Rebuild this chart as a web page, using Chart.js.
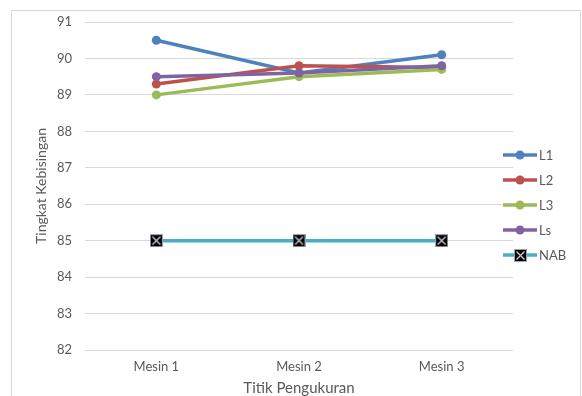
<!DOCTYPE html>
<html><head><meta charset="utf-8">
<script src="https://cdn.jsdelivr.net/npm/chart.js@4.4.0/dist/chart.umd.min.js"></script>
<style>html,body{margin:0;padding:0;background:#fff}#wrap{width:582px;height:396px}</style>
</head><body><div id="wrap"><canvas id="c" width="582" height="396"></canvas></div>
<script>
const categories = ["Mesin 1", "Mesin 2", "Mesin 3"];
const seriesNames = ["L1", "L2", "L3", "Ls", "NAB"];
const L1 = [90.5, 89.6, 90.1];
const L2 = [89.3, 89.8, 89.75];
const L3 = [89.0, 89.5, 89.7];
const Ls = [89.5, 89.6, 89.8];
const NAB = [85, 85, 85];
const yTicks = [82, 83, 84, 85, 86, 87, 88, 89, 90, 91];
const xTitle = "Titik Pengukuran";
const yTitle = "Tingkat Kebisingan";

const colors = ["#4F81BD", "#C0504D", "#9BBB59", "#8064A2", "#4BACC6"];
const FONT = "Lato, 'Open Sans', sans-serif";
const TXT = "#595959";

// NAB marker: black square with X
const mk = document.createElement('canvas');
mk.width = 13; mk.height = 13;
(function(){
  const g = mk.getContext('2d');
  g.fillStyle = '#000'; g.fillRect(0,0,13,13);
  g.strokeStyle = '#9aa3b0'; g.lineWidth = 1; g.strokeRect(0.5,0.5,12,12);
  g.strokeStyle = '#c8ccd4'; g.lineWidth = 1.3;
  g.beginPath(); g.moveTo(2.5,2.5); g.lineTo(10.5,10.5); g.moveTo(10.5,2.5); g.lineTo(2.5,10.5); g.stroke();
})();

const allData = [L1, L2, L3, Ls, NAB];
const datasets = allData.map((d, i) => ({
  label: seriesNames[i],
  data: d,
  borderColor: colors[i],
  backgroundColor: colors[i],
  borderWidth: 3.5,
  pointRadius: i === 4 ? 6.5 : 4.5,
  pointHoverRadius: 5,
  pointStyle: i === 4 ? mk : 'circle',
  pointBorderWidth: 0,
  tension: 0,
  order: 5 - i
}));

const framePlugin = {
  id: 'frame',
  beforeDraw(chart) {
    const c = chart.ctx;
    c.save();
    c.fillStyle = '#fff'; c.fillRect(0,0,chart.width,chart.height);
    c.strokeStyle = '#d9d9d9'; c.lineWidth = 1;
    c.strokeRect(11.5, 10.5, 569, 400);
    c.restore();
  }
};

const legendPlugin = {
  id: 'xlLegend',
  afterDraw(chart) {
    const c = chart.ctx;
    c.save();
    const x0 = 503, x1 = 537, y0 = 155, dy = 25;
    chart.data.datasets.forEach((ds, i) => {
      const y = y0 + i * dy;
      c.strokeStyle = ds.borderColor; c.lineWidth = 3.5;
      c.beginPath(); c.moveTo(x0, y); c.lineTo(x1, y); c.stroke();
      const xm = (x0 + x1) / 2;
      if (i === 4) {
        c.drawImage(mk, Math.round(xm - 6.5), Math.round(y - 6.5));
      } else {
        c.fillStyle = ds.borderColor;
        c.beginPath(); c.arc(xm, y, 4.5, 0, Math.PI * 2); c.fill();
      }
      c.fillStyle = TXT; c.font = "13px " + FONT;
      c.textBaseline = 'middle'; c.textAlign = 'left';
      c.fillText(ds.label, x1 + 2, y + 0.5);
    });
    c.restore();
  }
};

new Chart(document.getElementById('c'), {
  type: 'line',
  data: { labels: categories, datasets },
  options: {
    responsive: false,
    animation: false,
    devicePixelRatio: 1,
    layout: { padding: { left: 0, right: 69, top: 22, bottom: 0 } },
    plugins: { legend: { display: false }, tooltip: { enabled: false } },
    scales: {
      x: {
        offset: true,
        grid: { display: false, drawTicks: false, offset: true },
        border: { display: false },
        ticks: { color: TXT, font: { family: FONT, size: 13 }, padding: 9 },
        title: { display: true, text: xTitle, color: TXT, font: { family: FONT, size: 15 }, padding: { top: 0, bottom: -1 } },
        afterFit(s) { s.height = 46; }
      },
      y: {
        min: 82, max: 91,
        afterBuildTicks(s) { s.ticks = yTicks.map(v => ({ value: v })); },
        grid: { color: '#d9d9d9', lineWidth: 1, drawTicks: false },
        border: { display: false },
        ticks: { color: TXT, font: { family: FONT, size: 13 }, padding: 13 },
        title: { display: true, text: yTitle, color: TXT, font: { family: FONT, size: 14 }, padding: { top: 33, bottom: 0 } },
        afterFit(s) { s.width = 85; }
      }
    }
  },
  plugins: [framePlugin, legendPlugin]
});
</script></body></html>
